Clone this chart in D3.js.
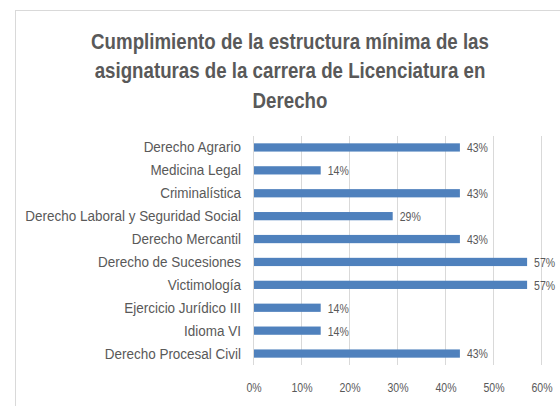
<!DOCTYPE html>
<html>
<head>
<meta charset="utf-8">
<script src="https://cdn.jsdelivr.net/npm/d3@7"></script>
<style>
  html, body { margin: 0; padding: 0; background: #fff; }
  svg { display: block; }
</style>
</head>
<body>
<div id="container"></div>
<script>
const WIDTH = 560,
  HEIGHT = 406;

// Data
const categories = [
  "Derecho Agrario",
  "Medicina Legal",
  "Criminalística",
  "Derecho Laboral y Seguridad Social",
  "Derecho Mercantil",
  "Derecho de Sucesiones",
  "Victimología",
  "Ejercicio Jurídico III",
  "Idioma VI",
  "Derecho Procesal Civil"
];
const values = [0.43, 0.14, 0.43, 0.29, 0.43, 0.57, 0.57, 0.14, 0.14, 0.43];
const xTicks = [0, 0.1, 0.2, 0.3, 0.4, 0.5, 0.6];
const titleLines = [
  "Cumplimiento de la estructura mínima de las",
  "asignaturas de la carrera de Licenciatura en",
  "Derecho"
];

const TEXT = "#595959",
  GRID = "#d9d9d9",
  BAR = "#4f81bd",
  FONT = "Liberation Sans, Arial, sans-serif";

// the source picture is squeezed sideways, so text is narrowed
const TITLE_SX = 0.85,
  LABEL_SX = 0.87,
  NUM_SX = 0.78;

const plot = { left: 253.5, right: 541.5, top: 136, bottom: 365 };

const svg = d3.select("#container")
  .append("svg")
  .attr("width", WIDTH)
  .attr("height", HEIGHT)
  .style("background-color", "#fff");

// chart frame (cropped on the right and bottom)
svg.append("rect")
  .attr("x", 15.5)
  .attr("y", 10.5)
  .attr("width", 600)
  .attr("height", 500)
  .attr("fill", "none")
  .attr("stroke", "#d9d9d9");

// Title
svg.append("g")
  .attr("class", "title")
  .selectAll("text")
  .data(titleLines)
  .join("text")
  .attr("transform", (d, i) => `translate(290, ${48.5 + i * 29.5}) scale(${TITLE_SX}, 1)`)
  .attr("text-anchor", "middle")
  .attr("font-family", FONT)
  .attr("font-weight", "bold")
  .attr("font-size", 22)
  .attr("fill", TEXT)
  .text(d => d);

// Scales
const xScale = d3.scaleLinear()
  .domain([0, 0.6])
  .range([plot.left, plot.right]);

const yScale = d3.scaleBand()
  .domain(categories)
  .range([plot.top, plot.bottom])
  .paddingInner(0.64)
  .paddingOuter(0.32);

// Gridlines
svg.append("g")
  .attr("class", "grid")
  .selectAll("line")
  .data(xTicks.slice(1))
  .join("line")
  .attr("x1", d => xScale(d))
  .attr("x2", d => xScale(d))
  .attr("y1", plot.top)
  .attr("y2", plot.bottom)
  .attr("stroke", GRID)
  .attr("stroke-width", 1);

// Bars
svg.selectAll(".bar")
  .data(values)
  .join("rect")
  .attr("class", "bar")
  .attr("x", xScale(0))
  .attr("y", (d, i) => yScale(categories[i]))
  .attr("width", d => xScale(d) - xScale(0))
  .attr("height", yScale.bandwidth())
  .attr("fill", BAR);

// Value labels
svg.selectAll(".value")
  .data(values)
  .join("text")
  .attr("class", "value")
  .attr("transform", (d, i) =>
    `translate(${xScale(d) + 7}, ${yScale(categories[i]) + yScale.bandwidth() / 2}) scale(${NUM_SX}, 1)`)
  .attr("dy", "0.36em")
  .attr("font-family", FONT)
  .attr("font-size", 13.5)
  .attr("fill", TEXT)
  .text(d => d3.format(".0%")(d));

// Y axis
const yAxis = svg.append("g")
  .attr("class", "y-axis")
  .attr("transform", `translate(${plot.left}, 0)`)
  .call(d3.axisLeft(yScale).tickSize(0).tickPadding(0));
yAxis.select(".domain")
  .attr("stroke", GRID)
  .attr("d", `M0,${plot.top}V${plot.bottom}`);
yAxis.selectAll("text")
  .attr("x", -12.5 / LABEL_SX)
  .attr("transform", `scale(${LABEL_SX}, 1)`)
  .attr("font-family", FONT)
  .attr("font-size", 15.5)
  .attr("fill", TEXT);

// X axis
const xAxis = svg.append("g")
  .attr("class", "x-axis")
  .attr("transform", `translate(0, ${plot.bottom})`)
  .call(d3.axisBottom(xScale).tickValues(xTicks).tickFormat(d3.format(".0%")).tickSize(0).tickPadding(17));
xAxis.select(".domain").remove();
xAxis.selectAll("text")
  .attr("transform", `scale(${NUM_SX}, 1)`)
  .attr("font-family", FONT)
  .attr("font-size", 13.5)
  .attr("fill", TEXT);
</script>
</body>
</html>
